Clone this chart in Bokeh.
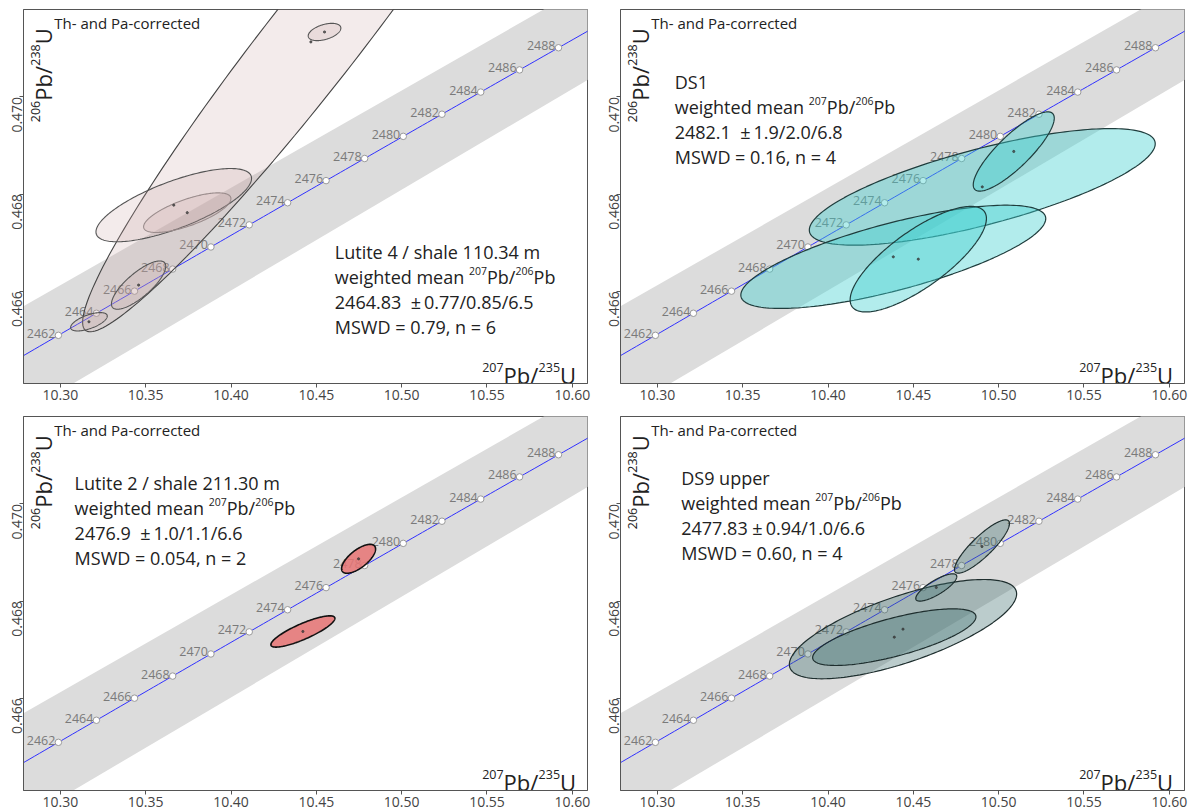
import numpy as np
from bokeh.plotting import figure
from bokeh.layouts import gridplot
from bokeh.models import Range1d, FixedTicker, PrintfTickFormatter
from bokeh.core.properties import value
from bokeh.embed import file_html
from bokeh.resources import INLINE

# ---------------- data ----------------
LAMBDA_238 = 1.55125e-10
LAMBDA_235 = 9.8485e-10
concordia_ages = [2462, 2464, 2466, 2468, 2470, 2472, 2474, 2476, 2478, 2480, 2482, 2484, 2486, 2488]
curve_age_min, curve_age_max = 2440, 2510

band_upper_x = [10.25, 10.64]
band_upper_y = [0.46512, 0.47294]
band_lower_x = [10.64, 10.28]
band_lower_y = [0.47099, 0.46353]

x_ticks = [10.30, 10.35, 10.40, 10.45, 10.50, 10.55, 10.60]
y_ticks = [0.466, 0.468, 0.470]
XMIN, XMAX = 10.2784, 10.6089
YMIN, YMAX = 0.4641, 0.4718

# ellipses: centre x, centre y, half-extent x, half-extent y, correlation
p1_x = [10.4468, 10.4548, 10.36645, 10.37436, 10.34585, 10.31675]
p1_y = [0.471132, 0.471337, 0.467772, 0.467617, 0.466126, 0.465371]
p1_sx = [0.13376, 0.00957, 0.04559, 0.02558, 0.01591, 0.01074]
p1_sy = [0.005967, 0.000178, 0.000754, 0.000408, 0.000497, 0.000189]
p1_rho = [0.967, 0.45, 0.73, 0.71, 0.78, 0.62]

p2_x = [10.4904, 10.43826, 10.4529, 10.50885]
p2_y = [0.468148, 0.466708, 0.466660, 0.468877]
p2_sx = [0.10135, 0.08934, 0.03993, 0.02373]
p2_sy = [0.00120, 0.001063, 0.001087, 0.000816]
p2_rho = [0.74, 0.74, 0.77, 0.84]

p3_x = [10.47475, 10.44212]
p3_y = [0.46887, 0.467374]
p3_sx = [0.00996, 0.01875]
p3_sy = [0.000298, 0.000322]
p3_rho = [0.68, 0.84]

p4_x = [10.44394, 10.43884, 10.46345, 10.49022]
p4_y = [0.467422, 0.467257, 0.46828, 0.469123]
p4_sx = [0.06659, 0.04784, 0.01201, 0.01611]
p4_sy = [0.001022, 0.000583, 0.000281, 0.000549]
p4_rho = [0.71, 0.72, 0.80, 0.86]

NB = "\u00a0"
panel_titles = ["Lutite 4 / shale 110.34 m", "DS1", "Lutite 2 / shale 211.30 m", "DS9 upper"]
panel_ages = ["2464.83 " + NB + "\u00b1\u20090.77/0.85/6.5", "2482.1 " + NB + "\u00b1\u20091.9/2.0/6.8",
              "2476.9 " + NB + "\u00b1\u20091.0/1.1/6.6", "2477.83 \u00b1\u20090.94/1.0/6.6"]
panel_mswd = ["MSWD = 0.79, n = 6", "MSWD = 0.16, n = 4", "MSWD = 0.054, n = 2", "MSWD = 0.60, n = 4"]

# ---------------- helpers ----------------
FONT = "Open Sans"
FW, FH = 564.0, 374.0
W = {' ': 0.26, '.': 0.266, ',': 0.252, '/': 0.371, '=': 0.572, '\u00b1': 0.572, 'P': 0.608,
     'b': 0.613, 'U': 0.738, 'a': 0.556, 'd': 0.613, 'e': 0.561, 'g': 0.548, 'h': 0.614,
     'i': 0.253, 'm': 0.930, 'n': 0.614, 't': 0.349, 'w': 0.770}


def tw(s, size):
    return sum(W.get(c, 0.572) for c in s) * size


def to_data(fx, fy):
    return XMIN + fx * (XMAX - XMIN) / FW, YMAX - fy * (YMAX - YMIN) / FH


def conc(t_ma):
    t = np.asarray(t_ma, dtype=float) * 1e6
    return np.exp(LAMBDA_235 * t) - 1.0, np.exp(LAMBDA_238 * t) - 1.0


def ellipse_xy(cx, cy, sx, sy, rho, n=200):
    th = np.linspace(0, 2 * np.pi, n)
    x = cx + sx * np.cos(th)
    y = cy + sy * (rho * np.cos(th) + np.sqrt(1 - rho ** 2) * np.sin(th))
    return list(x), list(y)


def rich(p, fx, fy, frags, angle=0.0, color="#222222"):
    pos = 0.0
    for text, size, rise in frags:
        if angle == 0:
            px, py = fx + pos, fy - rise
        else:
            px, py = fx - rise, fy - pos
        dx, dy = to_data(px, py)
        p.text(x=[dx], y=[dy], text=[text], angle=angle, text_font=value(FONT),
               text_font_size=f"{size}px", text_align="left", text_baseline="alphabetic",
               text_color=color)
        pos += tw(text, size)


def make_panel(col, row, ex, ey, esx, esy, erho, fill, alpha, lines, lw, title, age, mswd, tpos):
    p = figure(width=598, height=406 if row == 0 else 404,
               x_range=Range1d(XMIN, XMAX), y_range=Range1d(YMIN, YMAX),
               output_backend="svg", toolbar_location=None, tools="",
               min_border_left=23 if col == 0 else 22, min_border_right=11 if col == 0 else 12,
               min_border_top=9 if row == 0 else 10, min_border_bottom=23 if row == 0 else 20,
               background_fill_color="white", border_fill_color="white",
               outline_line_color="#555555")
    p.xgrid.visible = False
    p.ygrid.visible = False
    for ax in (p.xaxis[0], p.yaxis[0]):
        ax.major_tick_in = 0
        ax.major_tick_out = 4
        ax.minor_tick_line_color = None
        ax.major_label_text_font = FONT
        ax.major_label_text_font_size = "14px"
        ax.major_label_text_color = "#444444"
        ax.major_label_standoff = 2
        ax.axis_line_color = "#555555"
        ax.major_tick_line_color = "#555555"
    p.xaxis.ticker = FixedTicker(ticks=x_ticks)
    p.yaxis.ticker = FixedTicker(ticks=y_ticks)
    p.xaxis.formatter = PrintfTickFormatter(format="%.2f")
    p.yaxis.formatter = PrintfTickFormatter(format="%.3f")
    p.yaxis.major_label_orientation = np.pi / 2

    # concordia band
    p.patch(band_upper_x + band_lower_x, band_upper_y + band_lower_y,
            fill_color="#dcdcdc", line_color=None)
    # concordia curve
    ages = np.arange(curve_age_min, curve_age_max + 0.25, 0.25)
    cx, cy = conc(ages)
    p.line(cx, cy, line_color="#3030ff", line_width=1)
    mx, my = conc(concordia_ages)
    p.text(x=list(mx), y=list(my), text=[str(a) for a in concordia_ages], text_font=value(FONT),
           text_font_size="12.5px", text_color="#7a7a7a", text_align="right",
           text_baseline="alphabetic", x_offset=-3, y_offset=-2)
    p.scatter(list(mx), list(my), marker="circle", size=6.5, fill_color="white",
              line_color="#9a9a9a", line_width=1)

    # ellipses
    xs, ys = [], []
    for i in range(len(ex)):
        a, b = ellipse_xy(ex[i], ey[i], esx[i], esy[i], erho[i])
        xs.append(a)
        ys.append(b)
    p.patches(xs, ys, fill_color=fill, fill_alpha=alpha, line_color=lines, line_width=lw)
    p.scatter(ex, ey, marker="circle", size=2.2, color="#333333", alpha=0.7)

    # texts
    dx, dy = to_data(30.8, 13.7)
    p.text(x=[dx], y=[dy], text=["Th- and Pa-corrected"], text_font=value(FONT),
           text_font_size="15px", text_color="#222222", text_baseline="alphabetic")
    rich(p, 19.3, 112.7, [("206", 12.5, 7), ("Pb/", 22, 0), ("238", 12.5, 7), ("U", 22, 0)],
         angle=np.pi / 2)
    xl = [("207", 12.5, 7.5), ("Pb/", 22, 0), ("235", 12.5, 7.5), ("U", 22, 0)]
    total = sum(tw(t, s) for t, s, r in xl)
    rich(p, 552.8 - total, 365.7, xl)

    tx, ty = tpos
    rich(p, tx, ty, [(title, 18, 0)])
    rich(p, tx, ty + 25, [("weighted mean ", 18, 0), ("207", 10.5, 6.5), ("Pb/", 18, 0),
                          ("206", 10.5, 6.5), ("Pb", 18, 0)])
    rich(p, tx, ty + 50, [(age, 18, 0)])
    rich(p, tx, ty + 75, [(mswd, 18, 0)])
    return p


p1 = make_panel(0, 0, p1_x, p1_y, p1_sx, p1_sy, p1_rho, "#c8a6a6", 0.22,
                ["#444444", "#555555", "#555555", "#9a8c8c", "#555555", "#555555"], 1.1,
                panel_titles[0], panel_ages[0], panel_mswd[0], (311.3, 242.7))
p2 = make_panel(1, 0, p2_x, p2_y, p2_sx, p2_sy, p2_rho, "#3fd0d0", 0.4,
                "#1f3d3d", 1.2, panel_titles[1], panel_ages[1], panel_mswd[1], (54.2, 72.7))
p3 = make_panel(0, 1, p3_x, p3_y, p3_sx, p3_sy, p3_rho, "#e87474", 0.85,
                "#111111", 1.6, panel_titles[2], panel_ages[2], panel_mswd[2], (51.1, 66.7))
p4 = make_panel(1, 1, p4_x, p4_y, p4_sx, p4_sy, p4_rho, "#3d6e6e", 0.35,
                "#1e2e2e", 1.2, panel_titles[3], panel_ages[3], panel_mswd[3], (60.7, 61.7))

grid = gridplot([[p1, p2], [p3, p4]], toolbar_location=None)
open("out.html", "w").write(file_html(grid, INLINE))
